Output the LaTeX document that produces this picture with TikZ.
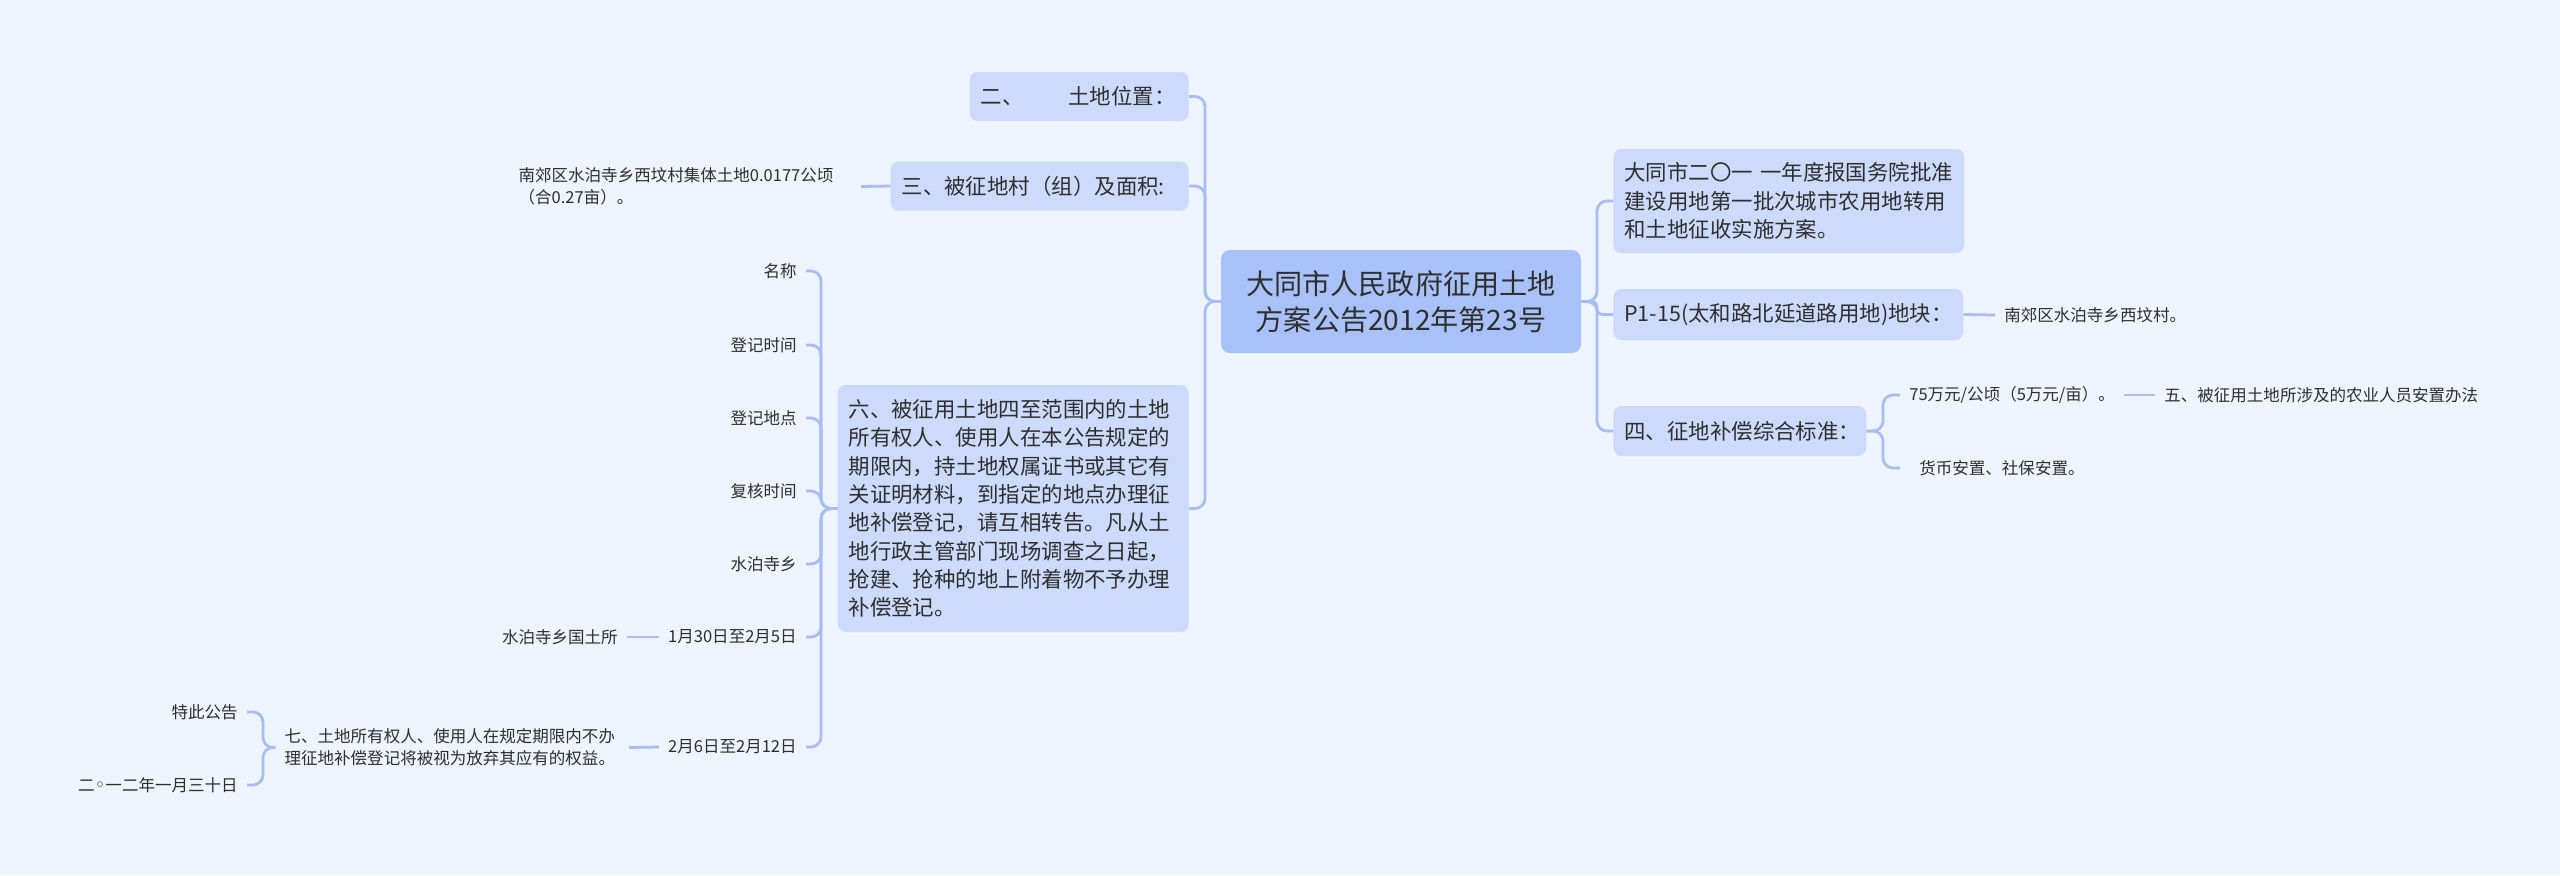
\documentclass[tikz,border=0pt]{standalone}
\usepackage{fontspec}
\usepackage{tikz}
\usetikzlibrary{calc}
\newfontfamily\cjk{Noto Sans CJK SC}
\newfontfamily\symfont{DejaVu Sans}
\definecolor{bgcol}{HTML}{EEF3FC}
\definecolor{boxcol}{HTML}{CCDBFB}
\definecolor{rootcol}{HTML}{A8C2F9}
\definecolor{linkcol}{HTML}{A6BEF0}
\definecolor{txtcol}{HTML}{2E2E2E}

\begin{document}
\begin{tikzpicture}[x=0.2mm, y=-0.2mm,
    topic/.style={
      rectangle, rounded corners=1.8mm,
      fill=rootcol, text=txtcol,
      inner xsep=2.2mm, inner ysep=0.6mm,
      text width=67.6mm, align=center,
      minimum height=20.6mm,
      font=\cjk\fontsize{16}{20.4}\selectfont
    },
    box/.style={
      rectangle, rounded corners=1.6mm,
      fill=boxcol, text=txtcol,
      inner xsep=2.2mm, inner ysep=0.6mm,
      align=left,
      font=\cjk\fontsize{12.2}{16.1}\selectfont
    },
    leaf/.style={
      text=txtcol, inner xsep=1.8mm, inner ysep=0.5mm,
      font=\cjk\fontsize{9.4}{12.5}\selectfont
    },
    link/.style={
      draw=linkcol, line width=0.55mm, rounded corners=2mm
    }
  ]
  \fill[bgcol] (0,0) rectangle (2560,875);

  \node[topic] (root) at (1401,301.5) {大同市人民政府征用土地\\方案公告2012年第23号};

  \node[box,anchor=east,text width=39.4mm,minimum height=9.8mm] (l1) at (1189,96.5) {二、\hspace{9mm}土地位置：};
  \node[box,anchor=east,text width=55.2mm,minimum height=9.8mm] (l2) at (1189,186) {三、被征地村（组）及面积:};
  \node[box,anchor=east,text width=65.8mm,minimum height=49.4mm] (l3) at (1189,508.5) {六、被征用土地四至范围内的土地\\所有权人、使用人在本公告规定的\\期限内，持土地权属证书或其它有\\关证明材料，到指定的地点办理征\\地补偿登记，请互相转告。凡从土\\地行政主管部门现场调查之日起，\\抢建、抢种的地上附着物不予办理\\补偿登记。};

  \node[box,anchor=west,text width=65.8mm,minimum height=20.8mm] (r1) at (1613,201) {大同市二〇一 一年度报国务院批准\\建设用地第一批次城市农用地转用\\和土地征收实施方案。};
  \node[box,anchor=west,text width=65.6mm,minimum height=10.2mm] (r2) at (1613,314.5) {\mbox{P1-15(太和路北延道路用地)地块：}};
  \node[box,anchor=west,text width=46.2mm,minimum height=10mm] (r3) at (1613,431) {四、征地补偿综合标准：};

  \node[leaf,anchor=east,text width=66.6mm,align=left] (a1) at (861,186.5) {南郊区水泊寺乡西坟村集体土地0.0177公顷\\（合0.27亩）。};
  \node[leaf,anchor=west] (b1) at (1995,315) {南郊区水泊寺乡西坟村。};
  \node[leaf,anchor=west] (c1) at (1900,395) {75万元/公顷（5万元/亩）。};
  \node[leaf,anchor=west] (c2) at (2155,395) {五、被征用土地所涉及的农业人员安置办法};
  \node[leaf,anchor=west] (c3) at (1900,468) {\hspace{2mm}货币安置、社保安置。};

  \node[leaf,anchor=east] (d1) at (806,271) {名称};
  \node[leaf,anchor=east] (d2) at (806,345) {登记时间};
  \node[leaf,anchor=east] (d3) at (806,418) {登记地点};
  \node[leaf,anchor=east] (d4) at (806,491) {复核时间};
  \node[leaf,anchor=east] (d5) at (806,564) {水泊寺乡};
  \node[leaf,anchor=east] (d6) at (806,637) {1月30日至2月5日};
  \node[leaf,anchor=east] (d7) at (806,747) {2月6日至2月12日};

  \node[leaf,anchor=east] (e1) at (627,637) {水泊寺乡国土所};
  \node[leaf,anchor=east,text width=67mm,align=left] (e2) at (629,747.5) {七、土地所有权人、使用人在规定期限内不办\\理征地补偿登记将被视为放弃其应有的权益。};

  \node[leaf,anchor=east] (f1) at (247,712) {特此公告};
  \node[leaf,anchor=east] (f2) at (247,785) {二{\symfont\fontsize{10.5}{12}\selectfont ◦}一二年一月三十日};

  \coordinate (tl) at (1205,0);
  \coordinate (tr) at (1597,0);
  \coordinate (tb) at (821,0);
  \coordinate (tc) at (1883,0);
  \coordinate (tq) at (263,0);

  \draw[link] (root.west) -- (root.west -| tl) |- (l1.east);
  \draw[link] (root.west) -- (root.west -| tl) |- (l2.east);
  \draw[link] (root.west) -- (root.west -| tl) |- (l3.east);
  \draw[link] (root.east) -- (root.east -| tr) |- (r1.west);
  \draw[link,rounded corners=1mm] (root.east) -- (root.east -| tr) |- (r2.west);
  \draw[link] (root.east) -- (root.east -| tr) |- (r3.west);

  \draw[link] (l2.west) -- (a1.east);
  \draw[link] (r2.east) -- (b1.west);
  \draw[link] (r3.east) -- (r3.east -| tc) |- (c1.west);
  \draw[link] (r3.east) -- (r3.east -| tc) |- (c3.west);
  \draw[link] (c1.east) -- (c2.west);

  \draw[link] (l3.west) -- (l3.west -| tb) |- (d1.east);
  \draw[link] (l3.west) -- (l3.west -| tb) |- (d2.east);
  \draw[link] (l3.west) -- (l3.west -| tb) |- (d3.east);
  \draw[link] (l3.west) -- (l3.west -| tb) |- (d4.east);
  \draw[link] (l3.west) -- (l3.west -| tb) |- (d5.east);
  \draw[link] (l3.west) -- (l3.west -| tb) |- (d6.east);
  \draw[link] (l3.west) -- (l3.west -| tb) |- (d7.east);
  \draw[link] (d6.west) -- (e1.east);
  \draw[link] (d7.west) -- (e2.east);

  \draw[link] (e2.west) -- (e2.west -| tq) |- (f1.east);
  \draw[link] (e2.west) -- (e2.west -| tq) |- (f2.east);
\end{tikzpicture}
\end{document}
